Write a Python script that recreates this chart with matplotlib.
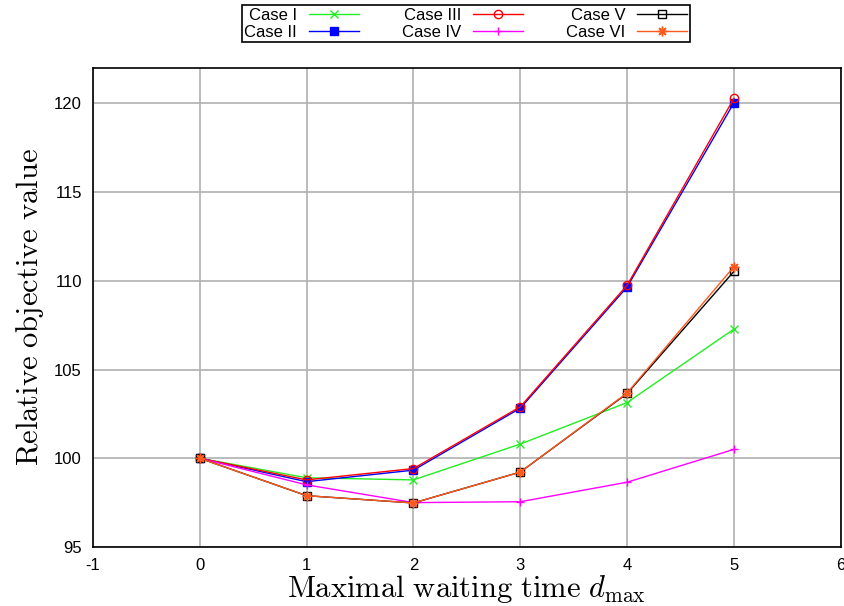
import matplotlib
matplotlib.use("Agg")
import matplotlib.pyplot as plt

x = [0, 1, 2, 3, 4, 5]
case_I = [100, 98.9, 98.78, 100.8, 103.14, 107.28]
case_II = [100, 98.68, 99.33, 102.82, 109.65, 120.03]
case_III = [100, 98.78, 99.42, 102.9, 109.75, 120.28]
case_IV = [100, 98.5, 97.5, 97.55, 98.65, 100.5]
case_V = [100, 97.89, 97.48, 99.22, 103.65, 110.53]
case_VI = [100, 97.89, 97.48, 99.22, 103.68, 110.8]

labels = ["Case I", "Case II", "Case III", "Case IV", "Case V", "Case VI"]
xticks = [-1, 0, 1, 2, 3, 4, 5, 6]
yticks = [95, 100, 105, 110, 115, 120]

plt.rcParams['font.family'] = ['Liberation Sans', 'DejaVu Sans']
plt.rcParams['mathtext.fontset'] = 'cm'
plt.rcParams['axes.unicode_minus'] = False

fig = plt.figure(figsize=(8.45, 6.06), dpi=100)
ax = fig.add_axes([0.110, 0.0974, 0.885, 0.7906])

styles = [
    dict(color='#22ee22', marker='x', ms=6, mew=1.0, mfc='none'),
    dict(color='#0000ff', marker='s', ms=6, mew=1.0),
    dict(color='#ff0000', marker='o', ms=6, mew=1.0, mfc='none'),
    dict(color='#ff00ff', marker='+', ms=6, mew=1.0),
    dict(color='#000000', marker='s', ms=6, mew=1.0, mfc='none'),
    dict(color='#ff5a1e', marker=(8, 2, 0), ms=7, mew=1.0),
]
series = [case_I, case_II, case_III, case_IV, case_V, case_VI]
handles = []
for s, lab, st in zip(series, labels, styles):
    h, = ax.plot(x, s, lw=1.0, label=lab, **st)
    handles.append(h)

ax.set_xlim(-1, 6)
ax.set_ylim(95, 122)
ax.set_xticks(xticks)
ax.set_yticks(yticks)
ax.grid(True, color='#b0b0b0', lw=1.2)
ax.set_axisbelow(True)
ax.tick_params(direction='in', length=0, labelsize=12, pad=8)
for sp in ax.spines.values():
    sp.set_linewidth(1.2)
    sp.set_color('black')

ax.set_xlabel(r"$\mathrm{Maximal\ waiting\ time}\ d_{\max}$", fontsize=22, labelpad=0)
ax.set_ylabel(r"$\mathrm{Relative\ objective\ value}$", fontsize=22, labelpad=6)

leg = fig.legend(handles=handles, labels=labels, loc='upper center', ncol=3,
                 bbox_to_anchor=(0.551, 0.997), markerfirst=False, fancybox=False,
                 edgecolor='black', fontsize=12, handlelength=3.0, columnspacing=2.6,
                 borderpad=0.15, labelspacing=0.12, handletextpad=0.7, borderaxespad=0.2,
                 framealpha=1)
leg.get_frame().set_linewidth(1.2)

fig.savefig("out.png", dpi=100)
